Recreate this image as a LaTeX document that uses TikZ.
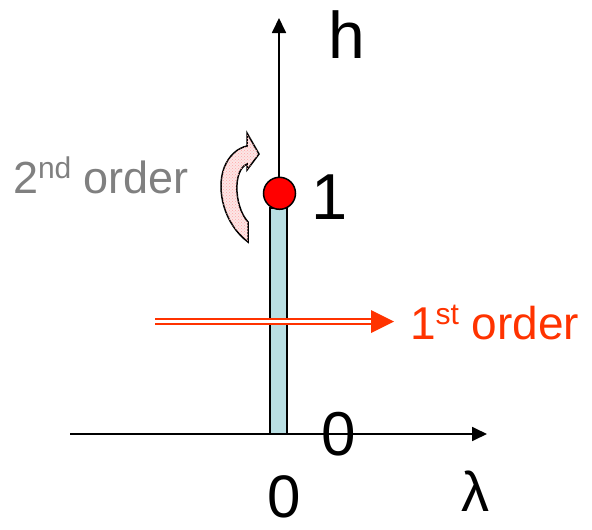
\documentclass[tikz,border=0pt]{standalone}
\usepackage{fontspec}
\setmainfont{Liberation Sans}
\usetikzlibrary{arrows.meta,patterns}
\definecolor{ordred}{HTML}{FF3300}
\definecolor{ordgray}{HTML}{808080}
\definecolor{barblue}{HTML}{B9DFE3}
\definecolor{arrpink}{HTML}{FCE6E6}
\tikzset{
  axisline/.style={line width=1.8pt, -{Triangle[length=15pt,width=14pt]}},
  lbl/.style={inner sep=0pt, outer sep=0pt},
  firstline/.style={draw=ordred, line width=2.1pt, double=white, double distance=2.2pt},
}
\begin{document}
\begin{tikzpicture}[x=1pt,y=-1pt]
\useasboundingbox (0,0) rectangle (592,530);
% axes
\coordinate (hleft) at (70,434);
\coordinate (hright) at (487,434);
\coordinate (vbot) at (279,434);
\coordinate (vtop) at (279,18);
\draw[axisline] (hleft) -- (hright);
\draw[axisline] (vbot) -- (vtop);
% bar and ball
\node[draw, fill=barblue, line width=1.5pt, minimum width=17pt, minimum height=226pt, inner sep=0pt] (bar) at (278.5,321) {};
\node[circle, draw, fill=red, line width=1.5pt, minimum size=32pt, inner sep=0pt] (ball) at (279.5,193.3) {};
% first order double arrow
\coordinate (fa) at (155,321.5);
\coordinate (fb) at (372,321.5);
\coordinate (ftip) at (394,321.5);
\draw[firstline] (fa) -- (fb);
\fill[ordred] (371,310) -- (ftip) -- (371,333) -- cycle;
% second order curved arrow
\path[fill=arrpink, draw=black, line width=1.5pt, postaction={pattern=crosshatch dots, pattern color=red!35}]
  (248,242) .. controls (224,224) and (216,190) .. (224,168)
  .. controls (229,155) and (238,148) .. (247,146)
  -- (247,133) -- (259,154) -- (247,170) -- (247,164)
  .. controls (240,167) and (236,178) .. (237,192)
  .. controls (238,205) and (242,215) .. (248,222) -- cycle;
% labels
\node[lbl, anchor=base west, font=\fontsize{66}{66}\selectfont] (hlab) at (328.5,58) {h};
\node[lbl, anchor=base west, font=\fontsize{65}{65}\selectfont] (onelab) at (311,219) {1};
\node[lbl, anchor=base, font=\fontsize{62}{62}\selectfont] (thlab) at (339,455) {0};
\node[lbl, anchor=base, font=\fontsize{60}{60}\selectfont] (zerolab) at (284,517) {0};
\node[lbl, anchor=base, font=\fontsize{56}{56}\selectfont] (lamlab) at (475,511) {λ};
\node[lbl, anchor=base west, text=ordgray, font=\fontsize{45}{45}\selectfont] (second) at (13,193)
  {2\raisebox{15pt}{\fontsize{30}{30}\selectfont nd} order};
\node[lbl, anchor=base west, text=ordred, font=\fontsize{46}{46}\selectfont] (first) at (410,339)
  {1\raisebox{15pt}{\fontsize{30}{30}\selectfont st} order};
\end{tikzpicture}
\end{document}
